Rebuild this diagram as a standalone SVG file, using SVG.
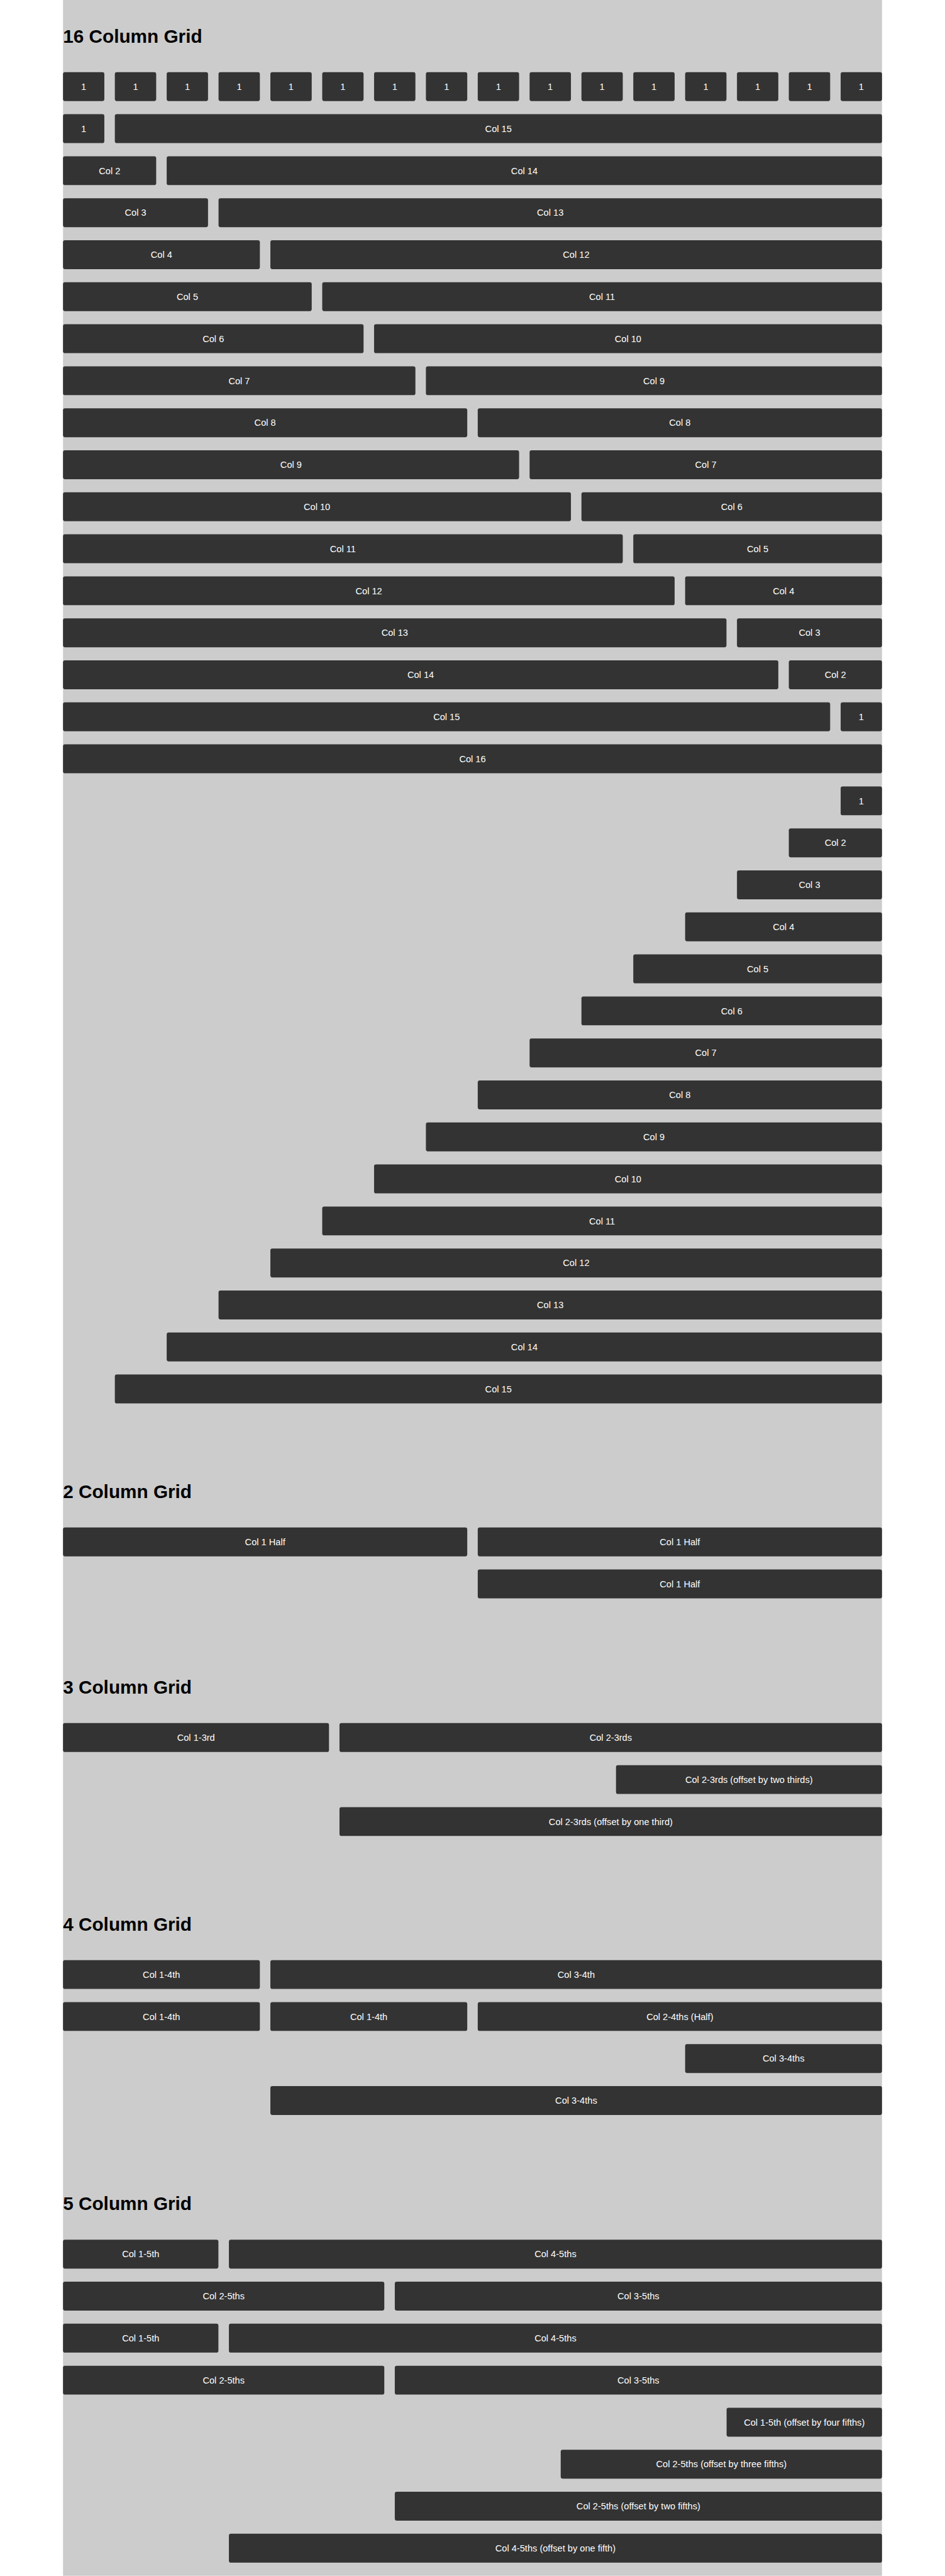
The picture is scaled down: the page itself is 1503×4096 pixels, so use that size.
<svg xmlns="http://www.w3.org/2000/svg" width="1503" height="4096" viewBox="0 0 1503 4096">
<style>
.bx{fill:#333333}
.lb{fill:#ffffff;font-family:"Liberation Sans",Arial,Helvetica,sans-serif;font-size:28px;text-anchor:middle}
.tt{fill:#000000;font-family:"Liberation Sans",Arial,Helvetica,sans-serif;font-size:57px;font-weight:bold}
</style>
<rect x="0" y="0" width="1503" height="4096" fill="#ffffff"/>
<g transform="scale(0.521875)">
<rect id="page" x="192" y="0" width="2496" height="7848" fill="#cccccc"/>
<g id="connectors"/>

<g id="sec16">
<text id="t16" class="tt" x="192" y="131">16 Column Grid</text>
<g id="r0c1"><rect class="bx" x="192" y="220" width="126" height="88" rx="6"/><text class="lb" x="255" y="274">1</text></g>
<g id="r0c2"><rect class="bx" x="350" y="220" width="126" height="88" rx="6"/><text class="lb" x="413" y="274">1</text></g>
<g id="r0c3"><rect class="bx" x="508" y="220" width="126" height="88" rx="6"/><text class="lb" x="571" y="274">1</text></g>
<g id="r0c4"><rect class="bx" x="666" y="220" width="126" height="88" rx="6"/><text class="lb" x="729" y="274">1</text></g>
<g id="r0c5"><rect class="bx" x="824" y="220" width="126" height="88" rx="6"/><text class="lb" x="887" y="274">1</text></g>
<g id="r0c6"><rect class="bx" x="982" y="220" width="126" height="88" rx="6"/><text class="lb" x="1045" y="274">1</text></g>
<g id="r0c7"><rect class="bx" x="1140" y="220" width="126" height="88" rx="6"/><text class="lb" x="1203" y="274">1</text></g>
<g id="r0c8"><rect class="bx" x="1298" y="220" width="126" height="88" rx="6"/><text class="lb" x="1361" y="274">1</text></g>
<g id="r0c9"><rect class="bx" x="1456" y="220" width="126" height="88" rx="6"/><text class="lb" x="1519" y="274">1</text></g>
<g id="r0c10"><rect class="bx" x="1614" y="220" width="126" height="88" rx="6"/><text class="lb" x="1677" y="274">1</text></g>
<g id="r0c11"><rect class="bx" x="1772" y="220" width="126" height="88" rx="6"/><text class="lb" x="1835" y="274">1</text></g>
<g id="r0c12"><rect class="bx" x="1930" y="220" width="126" height="88" rx="6"/><text class="lb" x="1993" y="274">1</text></g>
<g id="r0c13"><rect class="bx" x="2088" y="220" width="126" height="88" rx="6"/><text class="lb" x="2151" y="274">1</text></g>
<g id="r0c14"><rect class="bx" x="2246" y="220" width="126" height="88" rx="6"/><text class="lb" x="2309" y="274">1</text></g>
<g id="r0c15"><rect class="bx" x="2404" y="220" width="126" height="88" rx="6"/><text class="lb" x="2467" y="274">1</text></g>
<g id="r0c16"><rect class="bx" x="2562" y="220" width="126" height="88" rx="6"/><text class="lb" x="2625" y="274">1</text></g>

<g id="r1a"><rect class="bx" x="192" y="348" width="126" height="88" rx="6"/><text class="lb" x="255" y="402">1</text></g>
<g id="r1b"><rect class="bx" x="350" y="348" width="2338" height="88" rx="6"/><text class="lb" x="1519" y="402">Col 15</text></g>
<g id="r2a"><rect class="bx" x="192" y="476" width="284" height="88" rx="6"/><text class="lb" x="334" y="530">Col 2</text></g>
<g id="r2b"><rect class="bx" x="508" y="476" width="2180" height="88" rx="6"/><text class="lb" x="1598" y="530">Col 14</text></g>
<g id="r3a"><rect class="bx" x="192" y="604" width="442" height="88" rx="6"/><text class="lb" x="413" y="658">Col 3</text></g>
<g id="r3b"><rect class="bx" x="666" y="604" width="2022" height="88" rx="6"/><text class="lb" x="1677" y="658">Col 13</text></g>
<g id="r4a"><rect class="bx" x="192" y="732" width="600" height="88" rx="6"/><text class="lb" x="492" y="786">Col 4</text></g>
<g id="r4b"><rect class="bx" x="824" y="732" width="1864" height="88" rx="6"/><text class="lb" x="1756" y="786">Col 12</text></g>
<g id="r5a"><rect class="bx" x="192" y="860" width="758" height="88" rx="6"/><text class="lb" x="571" y="914">Col 5</text></g>
<g id="r5b"><rect class="bx" x="982" y="860" width="1706" height="88" rx="6"/><text class="lb" x="1835" y="914">Col 11</text></g>
<g id="r6a"><rect class="bx" x="192" y="988" width="916" height="88" rx="6"/><text class="lb" x="650" y="1042">Col 6</text></g>
<g id="r6b"><rect class="bx" x="1140" y="988" width="1548" height="88" rx="6"/><text class="lb" x="1914" y="1042">Col 10</text></g>
<g id="r7a"><rect class="bx" x="192" y="1116" width="1074" height="88" rx="6"/><text class="lb" x="729" y="1170">Col 7</text></g>
<g id="r7b"><rect class="bx" x="1298" y="1116" width="1390" height="88" rx="6"/><text class="lb" x="1993" y="1170">Col 9</text></g>
<g id="r8a"><rect class="bx" x="192" y="1244" width="1232" height="88" rx="6"/><text class="lb" x="808" y="1298">Col 8</text></g>
<g id="r8b"><rect class="bx" x="1456" y="1244" width="1232" height="88" rx="6"/><text class="lb" x="2072" y="1298">Col 8</text></g>
<g id="r9a"><rect class="bx" x="192" y="1372" width="1390" height="88" rx="6"/><text class="lb" x="887" y="1426">Col 9</text></g>
<g id="r9b"><rect class="bx" x="1614" y="1372" width="1074" height="88" rx="6"/><text class="lb" x="2151" y="1426">Col 7</text></g>
<g id="r10a"><rect class="bx" x="192" y="1500" width="1548" height="88" rx="6"/><text class="lb" x="966" y="1554">Col 10</text></g>
<g id="r10b"><rect class="bx" x="1772" y="1500" width="916" height="88" rx="6"/><text class="lb" x="2230" y="1554">Col 6</text></g>
<g id="r11a"><rect class="bx" x="192" y="1628" width="1706" height="88" rx="6"/><text class="lb" x="1045" y="1682">Col 11</text></g>
<g id="r11b"><rect class="bx" x="1930" y="1628" width="758" height="88" rx="6"/><text class="lb" x="2309" y="1682">Col 5</text></g>
<g id="r12a"><rect class="bx" x="192" y="1756" width="1864" height="88" rx="6"/><text class="lb" x="1124" y="1810">Col 12</text></g>
<g id="r12b"><rect class="bx" x="2088" y="1756" width="600" height="88" rx="6"/><text class="lb" x="2388" y="1810">Col 4</text></g>
<g id="r13a"><rect class="bx" x="192" y="1884" width="2022" height="88" rx="6"/><text class="lb" x="1203" y="1938">Col 13</text></g>
<g id="r13b"><rect class="bx" x="2246" y="1884" width="442" height="88" rx="6"/><text class="lb" x="2467" y="1938">Col 3</text></g>
<g id="r14a"><rect class="bx" x="192" y="2012" width="2180" height="88" rx="6"/><text class="lb" x="1282" y="2066">Col 14</text></g>
<g id="r14b"><rect class="bx" x="2404" y="2012" width="284" height="88" rx="6"/><text class="lb" x="2546" y="2066">Col 2</text></g>
<g id="r15a"><rect class="bx" x="192" y="2140" width="2338" height="88" rx="6"/><text class="lb" x="1361" y="2194">Col 15</text></g>
<g id="r15b"><rect class="bx" x="2562" y="2140" width="126" height="88" rx="6"/><text class="lb" x="2625" y="2194">1</text></g>
<g id="r16"><rect class="bx" x="192" y="2268" width="2496" height="88" rx="6"/><text class="lb" x="1440" y="2322">Col 16</text></g>

<g id="o1"><rect class="bx" x="2562" y="2396" width="126" height="88" rx="6"/><text class="lb" x="2625" y="2450">1</text></g>
<g id="o2"><rect class="bx" x="2404" y="2524" width="284" height="88" rx="6"/><text class="lb" x="2546" y="2578">Col 2</text></g>
<g id="o3"><rect class="bx" x="2246" y="2652" width="442" height="88" rx="6"/><text class="lb" x="2467" y="2706">Col 3</text></g>
<g id="o4"><rect class="bx" x="2088" y="2780" width="600" height="88" rx="6"/><text class="lb" x="2388" y="2834">Col 4</text></g>
<g id="o5"><rect class="bx" x="1930" y="2908" width="758" height="88" rx="6"/><text class="lb" x="2309" y="2962">Col 5</text></g>
<g id="o6"><rect class="bx" x="1772" y="3036" width="916" height="88" rx="6"/><text class="lb" x="2230" y="3090">Col 6</text></g>
<g id="o7"><rect class="bx" x="1614" y="3164" width="1074" height="88" rx="6"/><text class="lb" x="2151" y="3218">Col 7</text></g>
<g id="o8"><rect class="bx" x="1456" y="3292" width="1232" height="88" rx="6"/><text class="lb" x="2072" y="3346">Col 8</text></g>
<g id="o9"><rect class="bx" x="1298" y="3420" width="1390" height="88" rx="6"/><text class="lb" x="1993" y="3474">Col 9</text></g>
<g id="o10"><rect class="bx" x="1140" y="3548" width="1548" height="88" rx="6"/><text class="lb" x="1914" y="3602">Col 10</text></g>
<g id="o11"><rect class="bx" x="982" y="3676" width="1706" height="88" rx="6"/><text class="lb" x="1835" y="3730">Col 11</text></g>
<g id="o12"><rect class="bx" x="824" y="3804" width="1864" height="88" rx="6"/><text class="lb" x="1756" y="3858">Col 12</text></g>
<g id="o13"><rect class="bx" x="666" y="3932" width="2022" height="88" rx="6"/><text class="lb" x="1677" y="3986">Col 13</text></g>
<g id="o14"><rect class="bx" x="508" y="4060" width="2180" height="88" rx="6"/><text class="lb" x="1598" y="4114">Col 14</text></g>
<g id="o15"><rect class="bx" x="350" y="4188" width="2338" height="88" rx="6"/><text class="lb" x="1519" y="4242">Col 15</text></g>
</g>

<g id="sec2">
<text id="t2" class="tt" x="192" y="4564">2 Column Grid</text>
<g id="h1a"><rect class="bx" x="192" y="4654" width="1232" height="88" rx="6"/><text class="lb" x="808" y="4708">Col 1 Half</text></g>
<g id="h1b"><rect class="bx" x="1456" y="4654" width="1232" height="88" rx="6"/><text class="lb" x="2072" y="4708">Col 1 Half</text></g>
<g id="h2"><rect class="bx" x="1456" y="4782" width="1232" height="88" rx="6"/><text class="lb" x="2072" y="4836">Col 1 Half</text></g>
</g>

<g id="sec3">
<text id="t3" class="tt" x="192" y="5160">3 Column Grid</text>
<g id="th1a"><rect class="bx" x="192" y="5250" width="810.67" height="88" rx="6"/><text class="lb" x="597.3" y="5304">Col 1-3rd</text></g>
<g id="th1b"><rect class="bx" x="1034.67" y="5250" width="1653.33" height="88" rx="6"/><text class="lb" x="1861.3" y="5304">Col 2-3rds</text></g>
<g id="th2"><rect class="bx" x="1877.33" y="5378" width="810.67" height="88" rx="6"/><text class="lb" x="2282.7" y="5432">Col 2-3rds (offset by two thirds)</text></g>
<g id="th3"><rect class="bx" x="1034.67" y="5506" width="1653.33" height="88" rx="6"/><text class="lb" x="1861.3" y="5560">Col 2-3rds (offset by one third)</text></g>
</g>

<g id="sec4">
<text id="t4" class="tt" x="192" y="5882">4 Column Grid</text>
<g id="q1a"><rect class="bx" x="192" y="5972" width="600" height="88" rx="6"/><text class="lb" x="492" y="6026">Col 1-4th</text></g>
<g id="q1b"><rect class="bx" x="824" y="5972" width="1864" height="88" rx="6"/><text class="lb" x="1756" y="6026">Col 3-4th</text></g>
<g id="q2a"><rect class="bx" x="192" y="6100" width="600" height="88" rx="6"/><text class="lb" x="492" y="6154">Col 1-4th</text></g>
<g id="q2b"><rect class="bx" x="824" y="6100" width="600" height="88" rx="6"/><text class="lb" x="1124" y="6154">Col 1-4th</text></g>
<g id="q2c"><rect class="bx" x="1456" y="6100" width="1232" height="88" rx="6"/><text class="lb" x="2072" y="6154">Col 2-4ths (Half)</text></g>
<g id="q3"><rect class="bx" x="2088" y="6228" width="600" height="88" rx="6"/><text class="lb" x="2388" y="6282">Col 3-4ths</text></g>
<g id="q4"><rect class="bx" x="824" y="6356" width="1864" height="88" rx="6"/><text class="lb" x="1756" y="6410">Col 3-4ths</text></g>
</g>

<g id="sec5">
<text id="t5" class="tt" x="192" y="6734">5 Column Grid</text>
<g id="f1a"><rect class="bx" x="192" y="6824" width="473.6" height="88" rx="6"/><text class="lb" x="428.8" y="6878">Col 1-5th</text></g>
<g id="f1b"><rect class="bx" x="697.6" y="6824" width="1990.4" height="88" rx="6"/><text class="lb" x="1692.8" y="6878">Col 4-5ths</text></g>
<g id="f2a"><rect class="bx" x="192" y="6952" width="979.2" height="88" rx="6"/><text class="lb" x="681.6" y="7006">Col 2-5ths</text></g>
<g id="f2b"><rect class="bx" x="1203.2" y="6952" width="1484.8" height="88" rx="6"/><text class="lb" x="1945.6" y="7006">Col 3-5ths</text></g>
<g id="f3a"><rect class="bx" x="192" y="7080" width="473.6" height="88" rx="6"/><text class="lb" x="428.8" y="7134">Col 1-5th</text></g>
<g id="f3b"><rect class="bx" x="697.6" y="7080" width="1990.4" height="88" rx="6"/><text class="lb" x="1692.8" y="7134">Col 4-5ths</text></g>
<g id="f4a"><rect class="bx" x="192" y="7208" width="979.2" height="88" rx="6"/><text class="lb" x="681.6" y="7262">Col 2-5ths</text></g>
<g id="f4b"><rect class="bx" x="1203.2" y="7208" width="1484.8" height="88" rx="6"/><text class="lb" x="1945.6" y="7262">Col 3-5ths</text></g>
<g id="f5"><rect class="bx" x="2214.4" y="7336" width="473.6" height="88" rx="6"/><text class="lb" x="2451.2" y="7390">Col 1-5th (offset by four fifths)</text></g>
<g id="f6"><rect class="bx" x="1708.8" y="7464" width="979.2" height="88" rx="6"/><text class="lb" x="2198.4" y="7518">Col 2-5ths (offset by three fifths)</text></g>
<g id="f7"><rect class="bx" x="1203.2" y="7592" width="1484.8" height="88" rx="6"/><text class="lb" x="1945.6" y="7646">Col 2-5ths (offset by two fifths)</text></g>
<g id="f8"><rect class="bx" x="697.6" y="7720" width="1990.4" height="88" rx="6"/><text class="lb" x="1692.8" y="7774">Col 4-5ths (offset by one fifth)</text></g>
</g>
</g>
</svg>
